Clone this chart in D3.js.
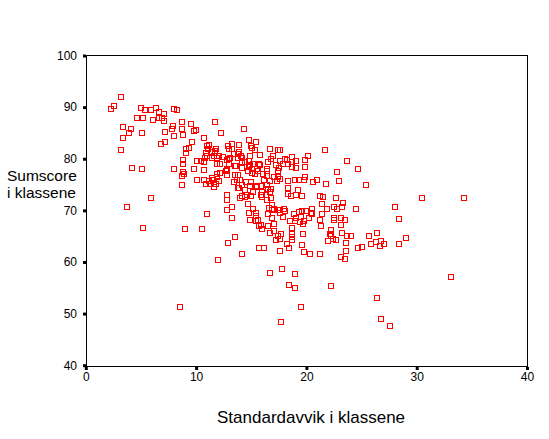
<!DOCTYPE html>
<html>
<head>
<meta charset="utf-8">
<script src="https://cdn.jsdelivr.net/npm/d3@7"></script>
<style>
  html, body { margin: 0; padding: 0; background: #fff; }
  svg { display: block; }
  text { font-family: "Liberation Sans", Arial, sans-serif; fill: #000; }
</style>
</head>
<body>
<svg id="chart" width="549" height="439"></svg>
<script>
// ---- data ----
const xTicks = [0, 10, 20, 30, 40];
const yTicks = [40, 50, 60, 70, 80, 90, 100];
const xTitle = "Standardavvik i klassene";
const yTitleLines = ["Sumscore", "i klassene"];

// [Standardavvik, Sumscore] per class
const classes = [
  [2.3,89.7],[2.6,90.3],[3.2,92.0],[3.4,86.1],[3.4,84.0],[3.9,84.9],[4.1,85.7],[3.2,81.6],[4.2,78.2],[5.1,84.9],
  [5.1,78.0],[4.6,87.9],[5.2,87.9],[5.0,89.9],[5.4,89.4],[5.9,89.5],[6.4,89.9],[6.1,87.5],[6.6,89.0],[6.6,87.9],
  [6.9,87.9],[7.1,88.6],[7.1,87.3],[7.2,85.1],[6.8,82.9],[7.2,83.2],[8.0,89.7],[8.3,89.5],[7.9,86.4],[7.8,85.8],
  [8.0,84.4],[8.7,87.1],[8.7,85.8],[8.8,84.6],[9.5,86.8],[9.8,85.4],[10.0,85.5],[9.6,83.2],[9.4,82.1],[9.1,81.9],
  [9.1,81.1],[8.8,79.7],[8.8,78.9],[8.9,77.1],[8.7,76.7],[8.0,78.0],[9.8,78.0],[10.1,79.6],[8.7,74.9],[10.1,75.8],
  [3.7,70.7],[5.9,72.3],[5.2,66.5],[9.0,66.3],[10.5,66.3],[11.0,69.2],[8.5,51.2],[10.7,75.8],[10.9,75.2],[11.2,75.6],
  [11.7,87.1],[10.7,84.0],[11.0,82.5],[11.2,82.7],[11.1,81.9],[10.9,81.1],[11.8,81.8],[11.7,81.1],[10.8,80.1],[11.4,80.1],
  [11.9,80.1],[12.1,80.5],[11.9,79.0],[10.4,79.6],[10.7,79.4],[11.4,76.3],[11.9,77.1],[12.3,84.9],[14.3,85.8],[14.8,83.7],
  [15.4,83.2],[13.3,82.9],[13.9,82.6],[12.9,82.5],[15.0,82.5],[15.1,82.0],[15.3,81.6],[16.7,81.8],[17.6,81.6],[15.8,80.8],
  [17.0,80.5],[16.8,80.0],[18.1,80.0],[18.7,80.3],[19.1,79.6],[20.1,80.6],[19.9,79.8],[18.3,78.9],[18.7,78.4],[19.9,78.4],
  [17.5,78.3],[16.5,79.4],[15.7,79.0],[15.2,78.9],[14.8,78.4],[14.2,79.4],[14.2,80.2],[13.8,80.9],[13.3,81.9],[13.4,80.9],
  [13.1,80.1],[12.8,79.8],[12.4,80.3],[11.6,80.5],[11.7,81.5],[12.2,79.0],[13.5,78.5],[12.8,78.1],[15.1,78.1],[16.4,78.1],
  [11.4,81.4],[13.0,81.9],[13.9,81.3],[17.4,81.6],[17.6,79.6],[14.1,80.5],[14.9,80.5],[13.8,80.1],[14.8,79.5],[14.4,79.3],
  [15.5,78.1],[15.6,77.6],[15.8,78.8],[16.4,77.7],[17.2,78.7],[17.4,77.6],[17.1,76.5],[16.1,77.0],[15.3,77.1],[14.7,77.6],
  [14.2,78.2],[13.6,78.6],[13.0,79.0],[13.0,80.0],[11.0,80.5],[8.8,77.5],[10.7,77.9],[12.2,77.2],[11.9,76.4],[11.5,75.8],
  [11.8,75.1],[11.6,74.5],[12.1,75.6],[12.7,77.6],[12.8,76.8],[13.5,76.9],[13.7,75.9],[13.4,75.4],[14.0,75.9],[13.9,74.4],
  [14.2,75.0],[14.5,75.5],[15.0,75.5],[15.4,74.8],[15.5,74.5],[15.9,74.7],[16.2,75.8],[16.4,74.9],[16.5,74.1],[16.8,74.1],
  [17.3,75.7],[17.4,76.5],[15.1,77.2],[14.2,72.8],[14.4,72.6],[15.0,72.7],[14.7,71.2],[15.2,70.3],[15.4,69.4],[15.4,68.9],
  [14.8,69.4],[15.6,68.1],[15.9,67.2],[16.0,66.4],[16.9,70.1],[17.4,70.1],[16.5,69.3],[16.9,68.5],[17.1,67.4],[16.5,66.9],
  [17.1,66.0],[12.8,72.0],[12.8,72.9],[13.3,70.7],[12.8,70.1],[13.3,68.6],[17.4,65.1],[17.2,64.3],[13.5,64.8],[16.7,65.7],
  [12.0,60.3],[12.9,63.6],[14.2,61.6],[15.7,62.7],[16.2,62.7],[17.6,62.1],[18.4,62.7],[16.7,57.9],[17.8,58.6],[19.0,57.6],
  [18.4,55.6],[19.0,55.0],[22.2,55.3],[19.6,63.2],[19.8,61.9],[20.3,61.6],[21.2,61.5],[15.7,66.9],[17.7,65.5],[17.6,64.5],
  [18.2,63.4],[18.7,66.5],[18.7,65.5],[18.7,64.3],[19.7,65.4],[18.5,67.9],[19.1,68.5],[18.9,69.3],[19.5,68.8],[19.4,67.8],
  [19.8,67.9],[20.2,68.5],[19.3,69.7],[19.6,69.9],[20.0,69.9],[20.5,70.3],[20.4,69.5],[21.2,68.1],[21.3,66.9],[21.4,71.2],
  [22.5,68.5],[22.5,70.6],[23.2,70.6],[23.3,71.4],[23.1,67.2],[23.2,65.6],[23.5,68.2],[23.7,65.0],[22.1,65.5],[22.0,64.1],
  [22.4,64.5],[22.7,64.3],[23.6,63.6],[23.6,62.1],[23.1,61.0],[23.5,60.5],[21.2,72.7],[21.5,72.5],[22.7,72.3],[21.8,75.1],
  [21.0,75.9],[22.8,77.4],[23.0,75.6],[23.7,79.6],[20.6,75.4],[19.9,76.5],[19.6,72.7],[19.1,72.9],[18.6,72.7],[18.3,73.1],
  [18.3,74.3],[19.2,74.0],[19.3,75.9],[19.8,75.9],[18.3,75.6],[19.0,75.8],[17.6,76.1],[19.1,78.3],[18.7,79.4],[17.9,79.0],
  [16.7,73.6],[16.8,72.3],[16.9,71.1],[16.6,70.5],[17.1,70.3],[17.6,70.1],[18.0,70.3],[17.6,69.4],[17.9,68.8],[16.0,73.6],
  [16.0,72.6],[16.3,73.0],[14.9,68.2],[15.4,67.9],[14.0,72.4],[14.6,72.9],[15.2,73.6],[14.4,74.0],[14.9,74.7],[13.8,74.3],
  [13.8,76.9],[12.8,77.9],[11.3,75.1],[14.9,78.7],[16.4,76.7],[16.7,75.6],[12.8,73.0],[21.7,81.6],[24.7,78.0],[25.4,74.9],
  [18.2,79.8],[24.5,70.3],[22.8,70.3],[23.1,68.5],[22.5,68.1],[21.9,70.3],[21.4,69.2],[22.2,66.2],[24.0,65.1],[22.2,65.1],
  [18.7,64.8],[19.7,67.4],[19.0,68.0],[20.5,69.2],[18.1,69.9],[16.4,72.1],[15.9,73.0],[25.9,63.4],[26.3,63.8],[26.7,63.0],
  [27.0,63.4],[26.8,64.1],[26.4,65.6],[25.7,65.0],[24.7,62.7],[25.0,62.9],[28.0,70.7],[28.4,68.3],[29.0,64.6],[28.4,63.4],
  [26.4,53.1],[26.8,48.9],[19.5,51.2],[30.5,72.3],[34.3,72.3],[33.1,57.0],[27.6,47.6],[17.7,48.4]
];

// ---- drawing ----
const svg = d3.select("#chart");
svg.append("rect").attr("width", 549).attr("height", 439).attr("fill", "#fff");

const x = d3.scaleLinear().domain([0, 40]).range([85.8, 527]);
const y = d3.scaleLinear().domain([39.75, 100]).range([366.5, 55.5]);

// frame
svg.append("rect")
  .attr("x", 86.5).attr("y", 55.5)
  .attr("width", 441).attr("height", 311)
  .attr("fill", "none").attr("stroke", "#000").attr("stroke-width", 1)
  .attr("shape-rendering", "crispEdges");

// axes
const yAxis = d3.axisLeft(y).tickValues(yTicks).tickSize(3).tickSizeOuter(0).tickPadding(6).tickFormat(d3.format("d"));
const gy = svg.append("g").attr("transform", "translate(86,0)").call(yAxis);
gy.select(".domain").remove();
gy.selectAll(".tick line").attr("stroke", "#000").attr("stroke-width", 3);
gy.selectAll(".tick text").attr("font-size", 12).attr("font-family", "Liberation Sans, Arial, sans-serif");

const xAxis = d3.axisBottom(x).tickValues(xTicks).tickSize(3).tickSizeOuter(0).tickPadding(2).tickFormat(d3.format("d"));
const gx = svg.append("g").attr("transform", "translate(0,367)").call(xAxis);
gx.select(".domain").remove();
gx.selectAll(".tick line").attr("stroke", "#000").attr("stroke-width", 3);
gx.selectAll(".tick text").attr("font-size", 12).attr("font-family", "Liberation Sans, Arial, sans-serif");

// points
svg.append("g").selectAll("rect")
  .data(classes)
  .join("rect")
  .attr("x", d => Math.round(x(d[0])) - 2.5)
  .attr("y", d => Math.round(y(d[1])) - 2.5)
  .attr("width", 5).attr("height", 5)
  .attr("fill", "none")
  .attr("stroke", "#ff0000")
  .attr("stroke-width", 1)
  .attr("shape-rendering", "crispEdges");

// titles
svg.append("text")
  .attr("x", 217).attr("y", 423)
  .attr("font-size", 17)
  .text(xTitle);

const yt = svg.append("text").attr("font-size", 15.5);
yTitleLines.forEach((t, i) => {
  yt.append("tspan").attr("x", 7).attr("y", 181 + i * 17).text(t);
});
</script>
</body>
</html>
